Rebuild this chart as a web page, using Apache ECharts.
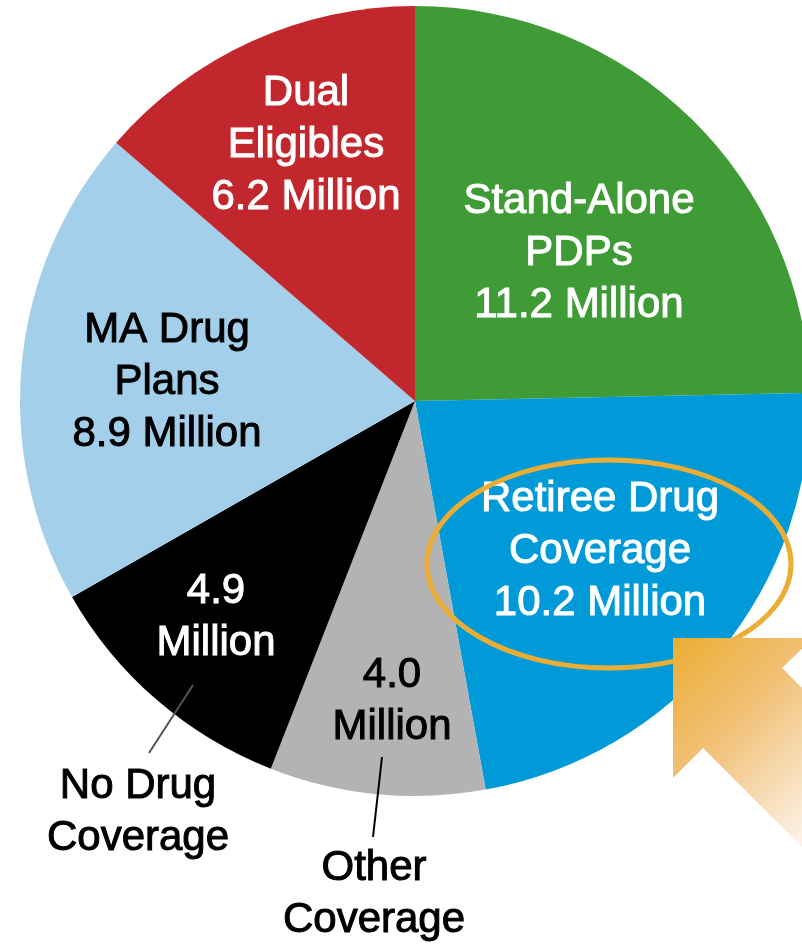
<!DOCTYPE html>
<html><head><meta charset="utf-8">
<script src="https://cdn.jsdelivr.net/npm/echarts@6/dist/echarts.min.js"></script>
<style>html,body{margin:0;padding:0;background:#fff}#c{width:802px;height:944px}</style>
</head><body><div id="c"></div>
<script>
// ---- data ----
const categories = ["Stand-Alone PDPs","Retiree Drug Coverage","Other Coverage","No Drug Coverage","MA Drug Plans","Dual Eligibles"];
const values = [11.2, 10.2, 4.0, 4.9, 8.9, 6.2];
const labelHeads = ["Stand-Alone\nPDPs","Retiree Drug\nCoverage","","","MA Drug\nPlans","Dual\nEligibles"];
const outsideNames = ["","","Other\nCoverage","No Drug\nCoverage","",""];
const unit = "Million";

// ---- styles / layout ----
const colors = ["#3e9b35","#009ad9","#b2b3b2","#000000","#a3cfea","#c2272d"];
const textColors = ["#ffffff","#ffffff","#000000","#ffffff","#000000","#ffffff"];
const labelCenters = [[579,253],[600,551],[392,701],[216,617],[167,382],[306,145]];
const outsideCenters = [null,null,[374,894],[138,812],null,null];
const leaderLines = [null,null,[382,757,373,837],[193,685,149,753],null,null];
const leaderColors = [null,null,"#000000","#555555",null,null];
const FONT = '"Liberation Sans", Arial, sans-serif';

const chart = echarts.init(document.getElementById('c'), null, {renderer:'canvas'});

const data = categories.map((name, i) => ({
  name: name,
  value: values[i],
  itemStyle: {color: colors[i]},
  label: {color: textColors[i], textBorderColor: textColors[i], textBorderWidth: 1}
}));

const graphics = [];
categories.forEach((n, i) => {
  if (outsideCenters[i]) {
    graphics.push({
      type: 'text', z: 100,
      style: {
        text: outsideNames[i], x: outsideCenters[i][0], y: outsideCenters[i][1],
        align: 'center', verticalAlign: 'middle',
        fontFamily: FONT, fontSize: 42, lineHeight: 52, fill: '#000',
        stroke: '#000', lineWidth: 1
      }
    });
  }
  if (leaderLines[i]) {
    const p = leaderLines[i];
    graphics.push({
      type: 'line', z: 100,
      shape: {x1: p[0], y1: p[1], x2: p[2], y2: p[3]},
      style: {stroke: leaderColors[i], lineWidth: 2}
    });
  }
});
// highlight ellipse
graphics.push({
  type: 'ellipse', z: 100,
  shape: {cx: 609, cy: 564, rx: 182, ry: 104},
  style: {fill: null, stroke: '#ebad33', lineWidth: 5}
});
// arrow
graphics.push({
  type: 'polygon', z: 101,
  shape: {points: [[673,638],[813,638],[782,668],[922,808],[843,888],[703,748],[673,778]]},
  style: {
    fill: new echarts.graphic.LinearGradient(673, 638, 843, 808, [
      {offset: 0, color: '#ebad33'},
      {offset: 0.45, color: '#f1c27a'},
      {offset: 1, color: '#fdf4ec'}
    ], true)
  }
});

chart.setOption({
  backgroundColor: '#ffffff',
  animation: false,
  series: [{
    type: 'pie',
    center: [415, 401],
    radius: 395,
    startAngle: 90,
    clockwise: true,
    silent: true,
    avoidLabelOverlap: false,
    itemStyle: {borderWidth: 0},
    label: {
      show: true,
      position: 'inside',
      fontFamily: FONT,
      fontSize: 42,
      lineHeight: 52,
      formatter: function (p) {
        const i = p.dataIndex;
        const v = values[i].toFixed(1);
        return labelHeads[i] ? labelHeads[i] + '\n' + v + ' ' + unit : v + '\n' + unit;
      }
    },
    labelLine: {show: false},
    labelLayout: function (p) {
      const c = labelCenters[p.dataIndex];
      return {x: c[0], y: c[1], align: 'center', verticalAlign: 'middle'};
    },
    data: data
  }],
  graphic: graphics
});
</script></body></html>
